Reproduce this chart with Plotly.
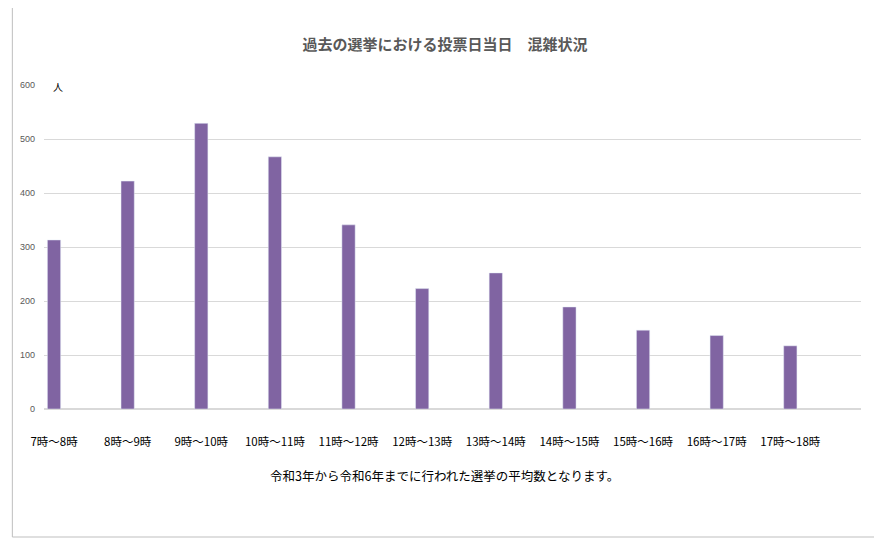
import plotly.graph_objects as go

categories = ["7時～8時","8時～9時","9時～10時","10時～11時","11時～12時","12時～13時",
              "13時～14時","14時～15時","15時～16時","16時～17時","17時～18時"]
values = [313, 422, 529, 467, 341, 223, 252, 189, 146, 136, 117]

OFF = 8  # page body margin
W, H = 882 - OFF, 542 - OFF
L, R, T, B = 35 - OFF, 29 - OFF, 85 - OFF, 141 - OFF

fig = go.Figure(go.Bar(x=list(range(len(categories))), y=values,
                       marker_color="#8064A2", width=0.18))
fig.update_layout(
    width=W, height=H, margin=dict(l=L, r=R, t=T, b=B),
    paper_bgcolor="white", plot_bgcolor="white", showlegend=False,
    font=dict(family="Noto Sans CJK JP", color="#000"),
    title=dict(text="<b>過去の選挙における投票日当日　混雑状況</b>", x=0.5, xanchor="center",
               y=1-(45-OFF)/H, yanchor="middle", font=dict(size=15, color="#595959")),
)
fig.update_xaxes(range=[-0.136, 10.96], tickvals=list(range(len(categories))),
                 ticktext=categories, tickfont=dict(size=11.5, color="#000"),
                 showgrid=False, showline=False, ticks="", ticklabelstandoff=24)
fig.update_yaxes(range=[0, 600], dtick=100, gridcolor="#d9d9d9", gridwidth=1,
                 tickfont=dict(size=9, color="#595959", family="Liberation Sans"),
                 zeroline=True, zerolinecolor="#d9d9d9", showline=False, ticks="",
                 ticklabelstandoff=8)
pw, ph = W - L - R, H - T - B
def px(x): return (x - OFF - L) / pw
def py(y): return (H - B - (y - OFF)) / ph
fig.add_shape(type="rect", xref="paper", yref="paper", x0=px(3), x1=px(877), y0=py(537), y1=py(3),
              line=dict(color="#bfbfbf", width=1))
fig.add_annotation(xref="paper", yref="paper", x=px(42), y=py(77), text="人", showarrow=False,
                   font=dict(size=10, color="#000"))
fig.add_annotation(xref="paper", yref="paper", x=px(440), y=py(487),
                   text="令和3年から令和6年までに行われた選挙の平均数となります。",
                   showarrow=False, font=dict(size=12.5, color="#000"))
fig.write_html("out.html")
